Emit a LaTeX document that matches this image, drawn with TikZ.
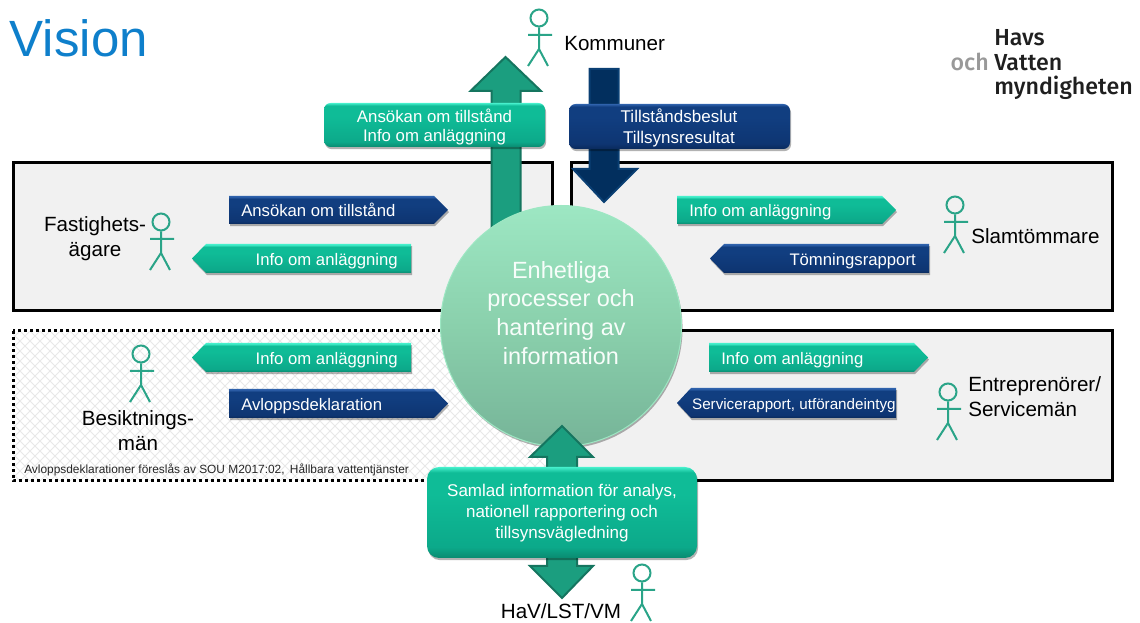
\documentclass[tikz,border=0pt]{standalone}
\usepackage{fontspec}
\setmainfont{Liberation Sans}
\newfontfamily\logofont{Fira Sans}[UprightFont=* Medium]
\usetikzlibrary{shadows,shapes.geometric}
\definecolor{tealm}{HTML}{1B9E7F}
\definecolor{teald}{HTML}{15755F}
\definecolor{navym}{HTML}{022F5E}
\definecolor{navyd}{HTML}{0A3F73}
\definecolor{persc}{HTML}{2AA488}
\definecolor{panel}{HTML}{F1F1F1}
\definecolor{hatchc}{HTML}{E8E8E8}
\definecolor{visionc}{HTML}{0E7FCB}
\definecolor{ga}{HTML}{0A8A70}
\definecolor{gb}{HTML}{0CA98A}
\definecolor{gc}{HTML}{0FBC97}
\definecolor{gd}{HTML}{46F0CC}
\definecolor{ba}{HTML}{0A2A5C}
\definecolor{bb}{HTML}{0E3572}
\definecolor{bc}{HTML}{113E80}
\definecolor{bd}{HTML}{2F62AC}
\definecolor{ca}{HTML}{76B498}
\definecolor{cb}{HTML}{8AD0AC}
\definecolor{cc}{HTML}{9DE7C3}
\pgfdeclareverticalshading{ribgreen}{100bp}{color(0bp)=(ga);color(25bp)=(ga);color(30bp)=(gb);color(60bp)=(gc);color(70bp)=(gc);color(74bp)=(gd);color(75bp)=(gd);color(100bp)=(gd)}
\pgfdeclareverticalshading{ribblue}{100bp}{color(0bp)=(ba);color(25bp)=(ba);color(30bp)=(bb);color(60bp)=(bc);color(70bp)=(bc);color(74bp)=(bd);color(75bp)=(bd);color(100bp)=(bd)}
\pgfdeclareverticalshading{boxgreen}{100bp}{color(0bp)=(ga);color(25bp)=(ga);color(31bp)=(gb);color(60bp)=(gc);color(72bp)=(gc);color(75bp)=(gd);color(100bp)=(gd)}
\pgfdeclareverticalshading{boxblue}{100bp}{color(0bp)=(ba);color(25bp)=(ba);color(31bp)=(bb);color(60bp)=(bc);color(72bp)=(bc);color(75bp)=(bd);color(100bp)=(bd)}
\pgfdeclareverticalshading{ballg}{100bp}{color(0bp)=(ca);color(25bp)=(ca);color(50bp)=(cb);color(75bp)=(cc);color(100bp)=(cc)}
\newcommand\fs[1]{\fontsize{\the\dimexpr #1pt*3/4\relax}{\the\dimexpr #1pt*9/10\relax}\selectfont}
\tikzset{
  soft/.style={drop shadow={shadow xshift=0.8pt,shadow yshift=-1.6pt,opacity=.3,fill=black}},
  panelbox/.style={draw=black,fill=panel,line width=2.25pt},
  dotbox/.style={draw=black,line width=2.25pt,dash pattern=on 2.25pt off 2.25pt},
  ribg/.style={shade,shading=ribgreen,soft},
  ribb/.style={shade,shading=ribblue,soft},
  ribtext/.style={text=white,inner sep=0pt,font=\fs{16.7}},
  head/.style={circle,draw=persc,line width=1.5pt,minimum size=17*.75pt,inner sep=0pt},
  limb/.style={draw=persc,line width=1.5pt},
  label/.style={inner sep=0pt,text=black,font=\fs{20.6},align=center},
  bigup/.style={fill=tealm,draw=teald,line width=1.5pt,line join=miter},
  bigdown/.style={fill=navym,draw=navyd,line width=1.5pt,line join=miter},
  roundbox/.style={rounded corners=5pt,text=white,inner sep=0pt,align=center,soft},
  logotext/.style={inner sep=0pt,anchor=base west,text=black!88,font=\fs{23.2}\logofont},
}
\newcommand\ribR[7]{%
  \path[#6] (#2,#4) -- ({#3-14},#4) -- (#3,{(#4+#5)/2}) -- ({#3-14},#5) -- (#2,#5) -- cycle;
  \node[ribtext,anchor=mid west] (#1) at ({#2+12},{(#4+#5)/2+3}) {#7};}
\newcommand\ribL[7]{%
  \path[#6] (#3,#4) -- ({#2+14},#4) -- (#2,{(#4+#5)/2}) -- ({#2+14},#5) -- (#3,#5) -- cycle;
  \node[ribtext,anchor=mid east] (#1) at ({#3-13},{(#4+#5)/2+3}) {#7};}
\newcommand\person[3]{%
  \node[head] (#1) at (#2,#3) {};
  \coordinate (#1c) at (#2,{#3+31});
  \coordinate (#1l) at ({#2-11},{#3+17});
  \coordinate (#1r) at ({#2+13},{#3+17});
  \coordinate (#1f) at ({#2-11},{#3+48});
  \coordinate (#1g) at ({#2+9},{#3+48});
  \draw[limb] (#1.south) -- (#1c) (#1l) -- (#1r) (#1f) -- (#1c) -- (#1g);}
\begin{document}
\begin{tikzpicture}[x=.75pt,y=-.75pt]
\useasboundingbox (0,0) rectangle (1140,623);
% panels
\draw[panelbox] (13,163) rectangle (552,311);
\draw[panelbox] (571,163) rectangle (1112.5,311);
\draw[panelbox] (571,331) rectangle (1112.5,481);
\begin{scope}
  \clip (13,331) rectangle (551,481);
  \fill[white] (13,331) rectangle (551,481);
  \foreach \k in {-160,-150,...,560} {
    \draw[hatchc,line width=.75pt] (\k,331) -- ({\k+150},481);
    \draw[hatchc,line width=.75pt] ({\k+150},331) -- (\k,481);
  }
\end{scope}
\draw[dotbox] (13,331) rectangle (551,481);
% big arrows
\draw[bigup] (505.5,57) -- (541,91) -- (520.5,91) -- (520.5,240) -- (491.5,240) -- (491.5,91) -- (470.5,91) -- cycle;
\draw[bigdown] (589.5,69) -- (618.5,69) -- (618.5,169) -- (637,169) -- (604,202) -- (573,169) -- (589.5,169) -- cycle;
% top boxes
\node[roundbox,shade,shading=boxgreen,minimum width=221*.75pt,minimum height=44*.75pt] (applybox) at (434.5,125) {};
\node[text=white,inner sep=0pt,align=center,font=\fs{16.8}] (apply) at (434.5,127) {Ansökan om tillstånd\\[-.5pt]Info om anläggning};
\node[roundbox,shade,shading=boxblue,minimum width=221*.75pt,minimum height=45*.75pt] (decisionbox) at (679.5,126.5) {};
\node[text=white,inner sep=0pt,align=center,font=\fs{17}] (decision) at (679,128) {Tillståndsbeslut\\Tillsynsresultat};
% centre
\node[circle,shade,shading=ballg,draw=cc,line width=.75pt,minimum size=241*.75pt,inner sep=0pt,soft] (hub) at (561,326) {};
\node[inner sep=0pt,align=center,text=white!92!cc,font=\fontsize{17.6pt}{21.6pt}\selectfont] (hubtext) at (561,313) {Enhetliga\\processer och\\hantering av\\information};
% ribbons
\ribR{r1}{229}{448}{196}{224}{ribb}{Ansökan om tillstånd}
\ribL{r2}{192}{411}{244}{273}{ribg}{Info om anläggning}
\ribL{r3}{192}{411}{343}{372}{ribg}{Info om anläggning}
\ribR{r4}{229}{448}{389}{418}{ribb}{Avloppsdeklaration}
\ribR{r5}{677}{896}{196}{224}{ribg}{Info om anläggning}
\ribL{r6}{710}{929}{244}{273}{ribb}{Tömningsrapport}
\ribR{r7}{709}{928}{343}{372}{ribg}{Info om anläggning}
\path[ribb] (896,388) -- (691,388) -- (677,403) -- (691,418) -- (896,418) -- cycle;
\node[ribtext,font=\fs{15.2},anchor=mid east] (r8) at (896,406) {Servicerapport, utförandeintyg};
% bottom arrow + box
\draw[bigup] (562,426) -- (593,457) -- (577,457) -- (577,566) -- (593,566) -- (562,598) -- (530,566) -- (547,566) -- (547,457) -- (530,457) -- cycle;
\node[roundbox,rounded corners=9pt,shade,shading=boxgreen,minimum width=270*.75pt,minimum height=91*.75pt] (summarybox) at (562,512.5) {};
\node[text=white,inner sep=0pt,align=center,font=\fs{17}] (summary) at (562,513) {Samlad information för analys,\\[.6pt]nationell rapportering och\\[.6pt]tillsynsvägledning};
% persons
\person{p1}{539}{18}
\person{p2}{161}{222}
\person{p3}{141}{354}
\person{p4}{955}{205}
\person{p5}{948}{392}
\person{p6}{642}{573}
% labels
\node[label,anchor=mid west] (l1) at (564,47) {Kommuner};
\node[label] (l2) at (95,238.5) {Fastighets-\\[.5pt]ägare};
\node[label] (l3) at (138,431) {Besiktnings-\\[.2pt]män};
\node[label,anchor=mid west] (l4) at (971,240) {Slamtömmare};
\node[label,anchor=west,align=left] (l5) at (968,397) {Entreprenörer/\\[.4pt]Servicemän};
\node[label,anchor=mid] (l6) at (561,615) {HaV/LST/VM};
\node[inner sep=0pt,anchor=mid west,text=black!85,font=\fs{11.9}] (note) at (24,470) {Avloppsdeklarationer föreslås av SOU M2017:02,\, Hållbara vattentjänster};
% title
\node[inner sep=0pt,anchor=base west,text=visionc,font=\fs{51}] (title) at (9.5,57) {Vision};
% logo
\node[logotext] (lg1) at (994,46) {Havs};
\node[logotext] (lg2) at (994,71) {Vatten};
\node[logotext] (lg3) at (994,95) {myndigheten};
\node[logotext,anchor=base east,text=black!40] (lg4) at (989,71) {och};
\end{tikzpicture}
\end{document}
